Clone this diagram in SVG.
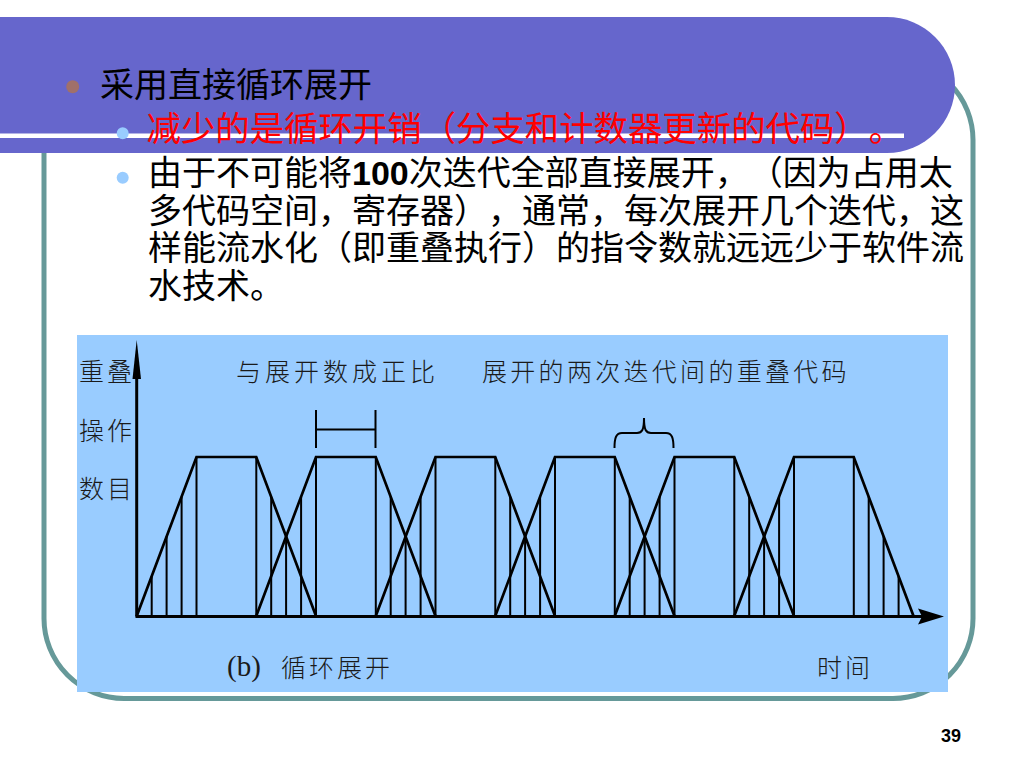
<svg xmlns="http://www.w3.org/2000/svg" width="1024" height="768" viewBox="0 0 1024 768">
<style>
text{text-spacing-trim:space-all}
.body{font-family:"Liberation Sans","Noto Sans CJK SC",sans-serif;font-size:34px;fill:#000}
.red{fill:#FF0000;font-size:34.4px}
.lbl{font-family:"Noto Sans CJK SC",sans-serif;font-size:25px;font-weight:300;fill:#1a1a1a}
.trap{fill:none;stroke:#000;stroke-width:2.7;stroke-linejoin:miter}
.vl{fill:none;stroke:#000;stroke-width:2}
.axis{fill:none;stroke:#000;stroke-width:3}
</style>
<rect width="1024" height="768" fill="#FFFFFF"/>
<g id="frame">
<rect x="44" y="60" width="929" height="638.5" rx="80" ry="80" fill="none" stroke="#669999" stroke-width="5"/>
</g>
<g id="header">
<path d="M0,17 H887 A68,68 0 0 1 887,153 H0 Z" fill="#6666CC"/>
<rect x="0" y="133.5" width="904" height="4.5" fill="#FFFFFF"/>
</g>
<g id="bullets">
<circle cx="72.7" cy="86.7" r="6.5" fill="#A0706A"/>
<text class="body" x="100" y="97">采用直接循环展开</text>
<circle cx="122.7" cy="133.3" r="6" fill="#99CCFF"/>
<text class="body red" x="146.5" y="141">减少的是循环开销（分支和计数器更新的代码）。</text>
<circle cx="122.7" cy="177.7" r="6" fill="#99CCFF"/>
<text class="body" x="148" y="185">由于不可能将<tspan font-weight="bold">100</tspan>次迭代全部直接展开，（因为占用太</text>
<text class="body" x="148" y="222.5">多代码空间，寄存器），通常，每次展开几个迭代，这</text>
<text class="body" x="148" y="260">样能流水化（即重叠执行）的指令数就远远少于软件流</text>
<text class="body" x="148" y="297.5">水技术。</text>
</g>
<g id="chart">
<rect x="77" y="335" width="871" height="357" fill="#99CCFF"/>
<g id="labels">
<text class="lbl" x="79" y="381" letter-spacing="3">重叠</text>
<text class="lbl" x="79" y="440" letter-spacing="3">操作</text>
<text class="lbl" x="79" y="498" letter-spacing="3">数目</text>
<text class="lbl" x="236" y="381" letter-spacing="4">与展开数成正比</text>
<text class="lbl" x="482" y="381" letter-spacing="3.3">展开的两次迭代间的重叠代码</text>
<text x="227" y="676" font-family="Liberation Serif, serif" font-size="29" fill="#1a1a1a">(b)</text>
<text class="lbl" x="281" y="677" letter-spacing="3">循环展开</text>
<text class="lbl" x="817" y="677" letter-spacing="3">时间</text>
</g>
<g id="trapezoids">
<polyline class="trap" points="136.75,616 196.5,457 256.25,457 316,616"/>
<polyline class="trap" points="256.25,616 316,457 375.75,457 435.5,616"/>
<polyline class="trap" points="375.75,616 435.5,457 495.25,457 555,616"/>
<polyline class="trap" points="495.25,616 555,457 614.75,457 674.5,616"/>
<polyline class="trap" points="614.75,616 674.5,457 734.25,457 794,616"/>
<polyline class="trap" points="734.25,616 794,457 853.75,457 913.5,616"/>
</g>
<path class="vl" d="M151.7,616V576.3M166.6,616V536.5M181.6,616V496.8M196.5,616V457M256.3,616V457M271.2,616V496.8M286.1,616V536.5M301.1,616V496.8M316,616V457M375.8,616V457M390.7,616V496.8M405.6,616V536.5M420.6,616V496.8M435.5,616V457M495.3,616V457M510.2,616V496.8M525.1,616V536.5M540.1,616V496.8M555,616V457M614.8,616V457M629.7,616V496.8M644.6,616V536.5M659.6,616V496.8M674.5,616V457M734.3,616V457M749.2,616V496.8M764.1,616V536.5M779.1,616V496.8M794,616V457M853.8,616V457M868.7,616V496.8M883.6,616V536.5M898.6,616V576.3"/>
<g id="axes">
<line class="axis" x1="136.7" y1="616.5" x2="136.7" y2="372"/>
<polygon points="136.7,340 132.5,379 141,379" fill="#000"/>
<line class="axis" x1="135.5" y1="616.5" x2="922" y2="616.5"/>
<polygon points="944,616.5 918,608.5 922,616.5 918,624.5" fill="#000"/>
</g>
<g id="annotations">
<path class="vl" d="M316,410V448M375.5,410V448M316,429.5H375.5"/>
<path class="vl" d="M614.5,448 C614.5,438 616,433 622,433 L637,433 C642,433 644,430 644,418 C644,430 646,433 651,433 L666,433 C672,433 673.5,438 673.5,448"/>
</g>
</g>
<text x="951" y="742" font-family="Liberation Sans, sans-serif" font-size="18" font-weight="bold" text-anchor="middle" fill="#000">39</text>
</svg>
